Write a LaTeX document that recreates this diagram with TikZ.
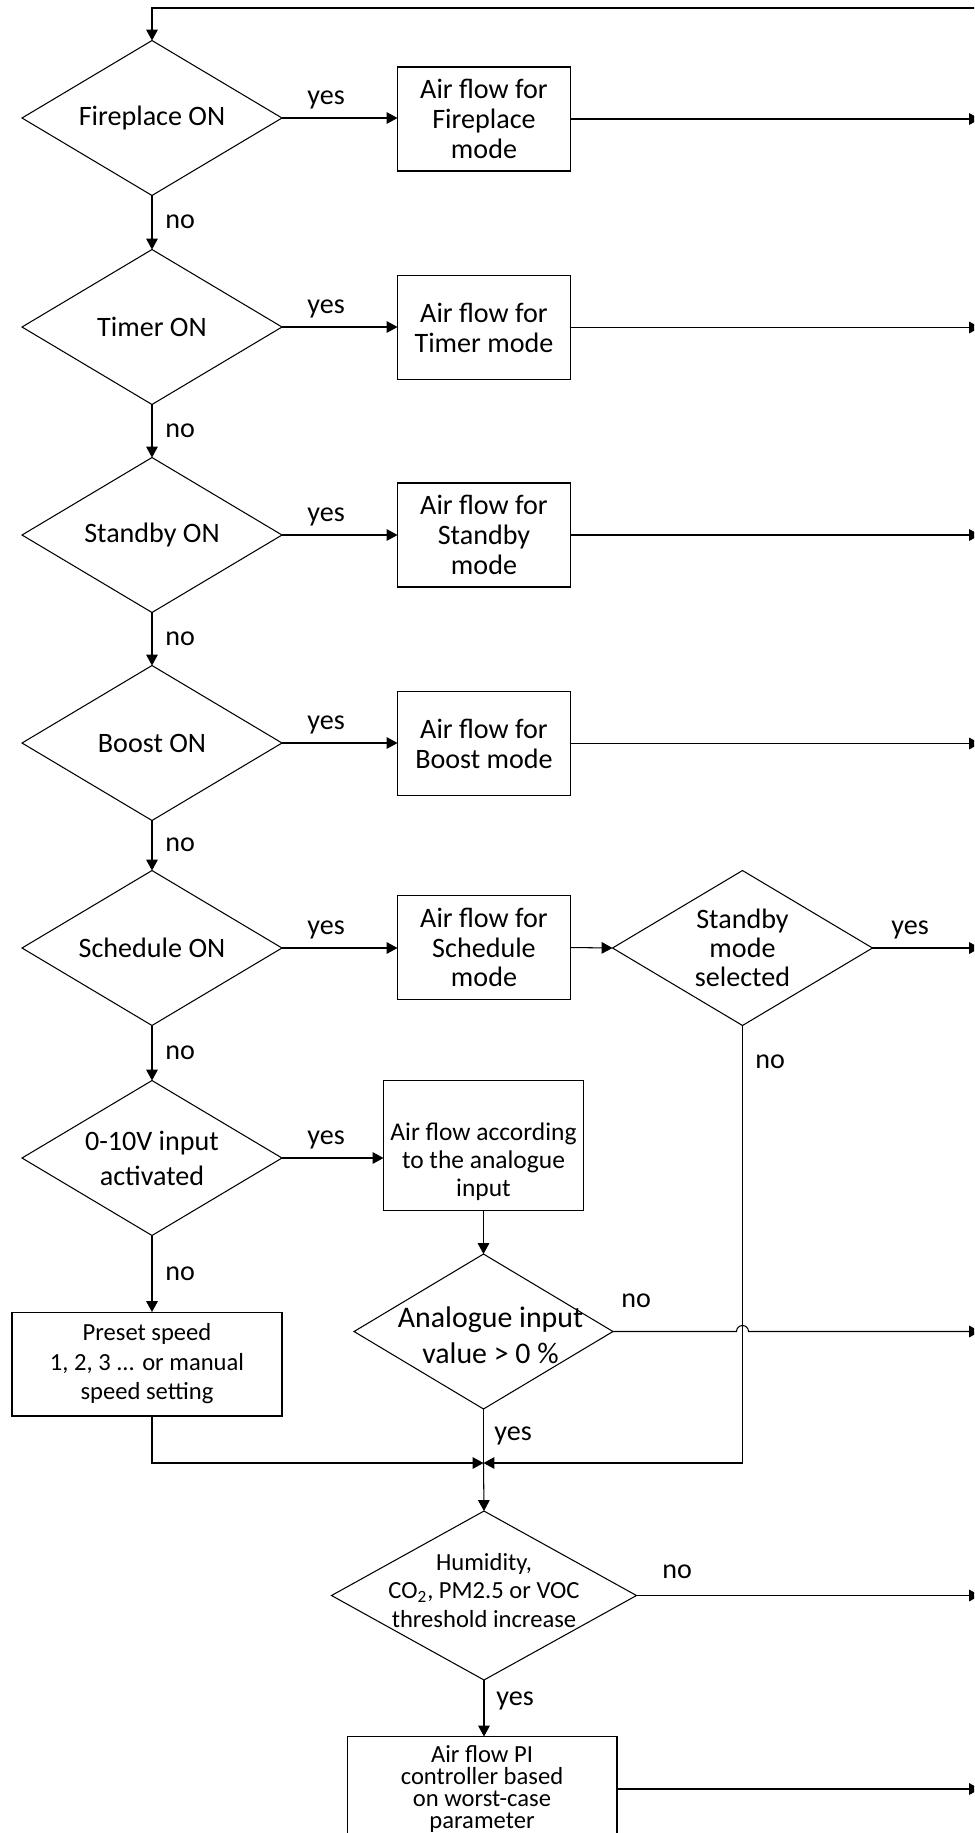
\documentclass[tikz,border=0pt]{standalone}
\usepackage{fontspec}
\setmainfont{Carlito}
\usetikzlibrary{arrows.meta,shapes.geometric,calc}
\newcommand\myfA{\fontsize{16}{17}\selectfont}
\newcommand\myfB{\fontsize{14.5}{16}\selectfont}
\newcommand\myfC{\fontsize{14}{16.8}\selectfont}
\newcommand\myfD{\fontsize{16}{20}\selectfont}
\newcommand\myfE{\fontsize{17}{20.8}\selectfont}
\newcommand\myfF{\fontsize{14}{16.2}\selectfont}
\newcommand\myfG{\fontsize{14}{12.6}\selectfont}
\newcommand\myfH{\fontsize{16}{16.5}\selectfont}
\begin{document}
\begin{tikzpicture}[x=0.02cm,y=-0.02cm,
 ln/.style={line width=0.6pt,draw=black},
 arr/.style={ln,-{Triangle[length=6.2pt,width=6.6pt]}},
 dia/.style={diamond,draw=black,line width=0.6pt,inner sep=0pt,outer sep=0pt,minimum width=5.2cm,minimum height=3.1cm},
 dtxt/.style={align=center,inner sep=0pt,font=\myfA},
 box/.style={rectangle,draw=black,line width=0.6pt,outer sep=0pt,inner sep=1pt,align=center,font=\myfA,minimum width=3.46cm,minimum height=2.08cm},
 lab/.style={font=\myfA,inner sep=0pt}
]
\fill[white] (0,0) rectangle (974,1833);
\useasboundingbox (0,0) rectangle (974,1833);
\clip (0,0) rectangle (974,1833);

% left column decisions
\node[dia,label={[dtxt]center:Fireplace ON}] (d1) at (152,118) {};
\node[dia,label={[dtxt]center:Timer ON}] (d2) at (152,327) {};
\node[dia,label={[dtxt]center:Standby ON}] (d3) at (152,535) {};
\node[dia,label={[dtxt]center:Boost ON}] (d4) at (152,743) {};
\node[dia,label={[dtxt]center:Schedule ON}] (d5) at (152,948) {};
\node[dia,label={[dtxt,font=\myfD]center:0-10V input\\activated}] (d6) at (152,1158) {};

% mode boxes
\node[box] (b1) at (484,119) {Air flow for\\Fireplace\\mode};
\node[box] (b2) at (484,327.5) {Air flow for\\Timer mode};
\node[box] (b3) at (484,535) {Air flow for\\Standby\\mode};
\node[box] (b4) at (484,743.5) {Air flow for\\Boost mode};
\node[box] (b5) at (484,947.5) {Air flow for\\Schedule\\mode};
\node[dia,label={[dtxt,font=\myfH]center:Standby\\mode\\selected}] (ss) at (742.5,948) {};

\node[box,minimum width=4cm,minimum height=2.6cm,label={[dtxt,font=\myfB,yshift=-9pt]center:Air flow according\\to the analogue\\input}] (ab) at (483.5,1145.5) {};
\node[dia,minimum width=5.18cm,minimum height=3.1cm,label={[dtxt,font=\myfE,xshift=4pt,yshift=-2pt]center:Analogue input\\value > 0 \%}] (an) at (483.5,1331.5) {};
\node[box,minimum width=5.4cm,minimum height=2.08cm,font=\myfC] (pre) at (147,1364) {Preset speed\\1, 2, 3 ... or manual\\speed setting};
\node[dia,minimum width=6.1cm,minimum height=3.38cm,label={[dtxt,font=\myfF,yshift=3pt]center:Humidity,\\CO\textsubscript{2}, PM2.5 or VOC\\threshold increase}] (hum) at (484,1595.5) {};
\node[box,minimum width=5.4cm,minimum height=2.1cm,font=\myfG] (pb) at (482,1789) {Air flow PI\\controller based\\on worst-case\\parameter};

\coordinate (redge) at (980,0);
\coordinate (top) at (980,8);
\coordinate (j) at (483.5,1463);

% loop back
\draw[arr] (top) -| (d1.north);
% no chain
\draw[arr] (d1.south) -- (d2.north);
\draw[arr] (d2.south) -- (d3.north);
\draw[arr] (d3.south) -- (d4.north);
\draw[arr] (d4.south) -- (d5.north);
\draw[arr] (d5.south) -- (d6.north);
\draw[arr] (d6.south) -- (d6.south |- pre.north);
% yes arrows
\draw[arr] (d1.east) -- (d1.east -| b1.west);
\draw[arr] (d2.east) -- (d2.east -| b2.west);
\draw[arr] (d3.east) -- (d3.east -| b3.west);
\draw[arr] (d4.east) -- (d4.east -| b4.west);
\draw[arr] (d5.east) -- (d5.east -| b5.west);
\draw[arr] (d6.east) -- (d6.east -| ab.west);
% out to the right
\draw[arr] (b1.east) -- (b1.east -| redge);
\draw[arr] (b2.east) -- (b2.east -| redge);
\draw[arr] (b3.east) -- (b3.east -| redge);
\draw[arr] (b4.east) -- (b4.east -| redge);
\draw[arr] (b5.east) -- (ss.west);
\draw[arr] (ss.east) -- (ss.east -| redge);
\draw[arr] (ab.south) -- (an.north);
\draw[arr] (an.east) -- ($(an.east -| ss.south)+(-6,0)$) arc[start angle=180,end angle=0,radius=0.12cm] -- (an.east -| redge);
% merge
\draw[ln] (an.south) -- (j);
\draw[arr] (pre.south -| d6.south) |- (j);
\draw[arr] (ss.south) |- (j);
\draw[arr] (j) -- (hum.north);
\draw[arr] (hum.east) -- (hum.east -| redge);
\draw[arr] (hum.south) -- (hum.south |- pb.north);
\draw[arr] (pb.east) -- (pb.east -| redge);

% labels
\node[lab,anchor=base west] (y1) at (307,104) {yes};
\node[lab,anchor=base west] (y2) at (307,313) {yes};
\node[lab,anchor=base west] (y3) at (307,521) {yes};
\node[lab,anchor=base west] (y4) at (307,729) {yes};
\node[lab,anchor=base west] (y5) at (307,934) {yes};
\node[lab,anchor=base west] (y6) at (307,1144) {yes};
\node[lab,anchor=base west] (y7) at (891,934) {yes};
\node[lab,anchor=base west] (n1) at (165,228.5) {no};
\node[lab,anchor=base west] (n2) at (165,437) {no};
\node[lab,anchor=base west] (n3) at (165,645) {no};
\node[lab,anchor=base west] (n4) at (165,851.5) {no};
\node[lab,anchor=base west] (n5) at (165,1059) {no};
\node[lab,anchor=base west] (n6) at (165,1280) {no};
\node[lab,anchor=base west] (n7) at (755,1068) {no};
\node[lab,anchor=base west] (n8) at (621,1307) {no};
\node[lab,anchor=base west] (y8) at (494,1440) {yes};
\node[lab,anchor=base west] (n9) at (662,1578) {no};
\node[lab,anchor=base west] (y9) at (496,1705) {yes};
\end{tikzpicture}
\end{document}
